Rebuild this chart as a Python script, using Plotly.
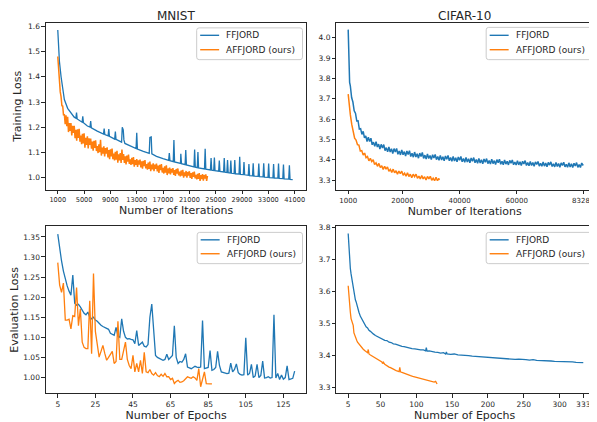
import plotly.graph_objects as go

# ---------------- DATA ----------------
# MNIST training loss (FFJORD) : iterations / loss
mnist_train_ffjord_iter = [
    1000, 1100, 1250, 1500, 1750, 2000, 2500, 3000, 3500, 3750, 3850, 3950, 4500, 4700, 4800, 4900,
    5500, 5900, 6000, 6100, 7000, 7950, 8050, 8150, 8650, 8750, 8850, 9650, 9750, 9850, 10700, 10800,
    10950, 11050, 11200, 12000, 12900, 13000, 13100, 14000, 14900, 15000, 15200, 15300, 16000, 17000,
    17850, 17950, 18050, 18550, 18650, 18750, 19650, 19700, 19800, 20350, 20450, 20550, 21000, 21700,
    21800, 21900, 22200, 22300, 22400, 23300, 23400, 23500, 24200, 24300, 24400, 24700, 24800, 24900,
    25450, 25550, 25650, 26200, 26300, 26400, 26700, 26800, 26900, 27200, 27300, 27400, 27800, 27900,
    28000, 28550, 28650, 28750, 29200, 29300, 29400, 29950, 30050, 30150, 30600, 30700, 30800, 31450,
    31550, 31650, 32200, 32300, 32400, 32950, 33050, 33150, 33700, 33800, 33900, 34450, 34550, 34650,
    35200, 35300, 35400, 36100, 36200, 36300, 36700]
mnist_train_ffjord_loss = [
    1.585, 1.520, 1.460, 1.400, 1.350, 1.310, 1.275, 1.255, 1.240, 1.236, 1.258, 1.233, 1.222, 1.220, 1.243, 1.218,
    1.205, 1.201, 1.225, 1.198, 1.185, 1.173, 1.195, 1.171, 1.166, 1.193, 1.164, 1.153, 1.183, 1.152, 1.141, 1.200,
    1.190, 1.150, 1.136, 1.126, 1.116, 1.178, 1.114, 1.105, 1.097, 1.160, 1.162, 1.095, 1.085, 1.076,
    1.069, 1.098, 1.068, 1.064, 1.150, 1.063, 1.057, 1.095, 1.056, 1.052, 1.110, 1.051, 1.047, 1.043,
    1.112, 1.042, 1.040, 1.102, 1.039, 1.035, 1.115, 1.034, 1.031, 1.078, 1.030, 1.029, 1.080, 1.028,
    1.026, 1.068, 1.025, 1.023, 1.078, 1.022, 1.021, 1.070, 1.020, 1.019, 1.068, 1.018, 1.017, 1.070,
    1.016, 1.015, 1.083, 1.014, 1.013, 1.062, 1.012, 1.010, 1.055, 1.009, 1.008, 1.058, 1.007, 1.006,
    1.057, 1.005, 1.004, 1.058, 1.003, 1.002, 1.057, 1.001, 1.000, 1.055, 0.999, 0.999, 1.057, 0.998,
    0.997, 1.053, 0.996, 0.995, 1.050, 0.994, 0.993]

# MNIST training loss (AFFJORD), one value every 125 iterations from 1000
mnist_train_affjord_loss = [
    1.480, 1.426, 1.388, 1.340, 1.321, 1.285, 1.284, 1.247,
    1.252, 1.212, 1.247, 1.204, 1.241, 1.181, 1.217, 1.186,
    1.217, 1.168, 1.206, 1.178, 1.206, 1.157, 1.190, 1.147,
    1.192, 1.158, 1.194, 1.143, 1.167, 1.133, 1.174, 1.136,
    1.176, 1.119, 1.158, 1.130, 1.164, 1.116, 1.156, 1.130,
    1.155, 1.115, 1.143, 1.107, 1.146, 1.118, 1.148, 1.106,
    1.126, 1.098, 1.133, 1.101, 1.150, 1.088, 1.120, 1.096,
    1.125, 1.085, 1.118, 1.096, 1.121, 1.081, 1.110, 1.074,
    1.113, 1.085, 1.116, 1.074, 1.096, 1.069, 1.103, 1.072,
    1.107, 1.060, 1.093, 1.069, 1.098, 1.059, 1.112, 1.071,
    1.094, 1.059, 1.085, 1.053, 1.088, 1.064, 1.092, 1.055,
    1.073, 1.051, 1.079, 1.054, 1.082, 1.044, 1.070, 1.051,
    1.074, 1.043, 1.069, 1.052, 1.072, 1.041, 1.065, 1.036,
    1.067, 1.046, 1.070, 1.037, 1.054, 1.032, 1.060, 1.035,
    1.064, 1.026, 1.052, 1.033, 1.057, 1.026, 1.052, 1.035,
    1.056, 1.025, 1.048, 1.019, 1.051, 1.030, 1.054, 1.021,
    1.039, 1.017, 1.045, 1.020, 1.049, 1.011, 1.037, 1.018,
    1.040, 1.014, 1.035, 1.021, 1.038, 1.012, 1.031, 1.008,
    1.035, 1.017, 1.037, 1.010, 1.024, 1.006, 1.029, 1.009,
    1.032, 1.001, 1.022, 1.007, 1.027, 1.001, 1.023, 1.009,
    1.026, 1.000, 1.019, 0.996, 1.022, 1.004, 1.025, 0.998,
    1.012, 0.994, 1.016, 0.996, 1.019, 0.988, 1.011, 0.995,
    1.015, 0.989, 1.011, 0.997, 1.014, 0.988, 1.008]
mnist_train_affjord_iter = [1000 + 125 * i for i in range(len(mnist_train_affjord_loss))]

mnist_train_tickvals = [1000, 5000, 9000, 13000, 17000, 21000, 25000, 29000, 33000, 37000]
mnist_train_ticktext = ["1000", "5000", "9000", "13000", "17000", "21000", "25000", "29000", "33000", "41000"]

# CIFAR-10 training loss (FFJORD): 1000, 1250, 1500, then every 450 iterations from 1750, then 83283
cifar_train_ffjord_loss = [
    4.040, 3.860, 3.780,
    3.764, 3.706, 3.684, 3.641, 3.629, 3.591, 3.592, 3.551, 3.553, 3.525,
    3.540, 3.508, 3.518, 3.490, 3.511, 3.490, 3.506, 3.474, 3.487, 3.466,
    3.489, 3.463, 3.477, 3.453, 3.476, 3.458, 3.475, 3.445, 3.460, 3.439,
    3.463, 3.438, 3.454, 3.431, 3.455, 3.438, 3.456, 3.427, 3.443, 3.424,
    3.449, 3.425, 3.440, 3.418, 3.443, 3.426, 3.445, 3.416, 3.432, 3.413,
    3.438, 3.414, 3.430, 3.408, 3.433, 3.416, 3.436, 3.407, 3.423, 3.404,
    3.429, 3.406, 3.421, 3.401, 3.425, 3.409, 3.426, 3.401, 3.416, 3.398,
    3.422, 3.399, 3.415, 3.395, 3.419, 3.403, 3.421, 3.395, 3.411, 3.393,
    3.417, 3.394, 3.410, 3.390, 3.414, 3.398, 3.416, 3.390, 3.406, 3.388,
    3.412, 3.389, 3.405, 3.385, 3.409, 3.393, 3.411, 3.385, 3.401, 3.383,
    3.407, 3.384, 3.400, 3.380, 3.404, 3.388, 3.406, 3.381, 3.396, 3.379,
    3.403, 3.381, 3.396, 3.377, 3.401, 3.385, 3.403, 3.378, 3.393, 3.376,
    3.399, 3.379, 3.393, 3.375, 3.397, 3.383, 3.399, 3.376, 3.389, 3.374,
    3.396, 3.375, 3.390, 3.372, 3.393, 3.380, 3.396, 3.372, 3.386, 3.371,
    3.392, 3.372, 3.387, 3.368, 3.390, 3.377, 3.392, 3.369, 3.383, 3.368,
    3.389, 3.369, 3.384, 3.366, 3.387, 3.374, 3.390, 3.367, 3.380, 3.365,
    3.387, 3.367, 3.382, 3.363, 3.385, 3.372, 3.388, 3.365, 3.378, 3.363,
    3.385, 3.365, 3.380, 3.362, 3.383, 3.370, 3.386, 3.363, 3.377, 3.362,
    3.384,
    3.372]
cifar_train_ffjord_iter = ([1000, 1250, 1500]
                           + [1750 + 450 * k for k in range(len(cifar_train_ffjord_loss) - 4)]
                           + [83283])

# CIFAR-10 training loss (AFFJORD): 1000, 1250, 1500, then every 500 iterations from 1750, then 32850
cifar_train_affjord_loss = [
    3.723, 3.680, 3.648,
    3.622, 3.574, 3.543, 3.506, 3.497, 3.474, 3.472, 3.443, 3.445, 3.423,
    3.433, 3.410, 3.416, 3.395, 3.407, 3.391, 3.400, 3.377, 3.385, 3.368,
    3.382, 3.362, 3.371, 3.353, 3.368, 3.354, 3.365, 3.344, 3.353, 3.338,
    3.354, 3.336, 3.346, 3.329, 3.345, 3.332, 3.344, 3.324, 3.334, 3.319,
    3.336, 3.318, 3.329, 3.312, 3.329, 3.317, 3.329, 3.309, 3.320, 3.306,
    3.323, 3.306, 3.317, 3.301, 3.318, 3.306, 3.319, 3.299, 3.310, 3.297,
    3.314, 3.297, 3.309,
    3.300]
cifar_train_affjord_iter = ([1000, 1250, 1500]
                            + [1750 + 500 * k for k in range(len(cifar_train_affjord_loss) - 4)]
                            + [32850])

cifar_train_tickvals = [1000, 20000, 40000, 60000, 83283]

# MNIST evaluation loss, one value per epoch starting at epoch 5
mnist_eval_ffjord_loss = [
    1.357, 1.320, 1.290, 1.265, 1.245, 1.228, 1.215, 1.205, 1.255, 1.185, 1.180, 1.182, 1.176, 1.166,
    1.160, 1.156, 1.163, 1.150, 1.146, 1.150, 1.143, 1.140, 1.134, 1.130, 1.127, 1.124, 1.121, 1.120,
    1.110, 1.108, 1.105, 1.125, 1.103, 1.100, 1.146, 1.115, 1.100, 1.096, 1.097, 1.095, 1.094, 1.084,
    1.117, 1.080, 1.083, 1.088, 1.078, 1.076, 1.082, 1.150, 1.183, 1.110, 1.055, 1.050, 1.047, 1.045,
    1.043, 1.045, 1.058, 1.045, 1.050, 1.055, 1.129, 1.050, 1.035, 1.040, 1.038, 1.045, 1.059, 1.026,
    1.024, 1.022, 1.025, 1.028, 1.026, 1.025, 1.026, 1.142, 1.022, 1.024, 1.025, 1.067, 1.018, 1.020,
    1.025, 1.065, 1.030, 1.014, 1.013, 1.012, 1.010, 1.011, 1.036, 1.014, 1.020, 1.034, 1.012, 1.008,
    1.006, 1.007, 1.099, 1.006, 1.010, 1.033, 1.000, 1.004, 1.033, 1.000, 1.005, 1.041, 0.999, 1.000,
    1.002, 0.999, 1.000, 1.156, 0.999, 1.010, 0.995, 1.006, 0.996, 1.000, 1.029, 0.995, 0.996, 0.998,
    1.016]
mnist_eval_ffjord_epoch = [5 + i for i in range(len(mnist_eval_ffjord_loss))]

mnist_eval_affjord_loss = [
    1.286, 1.230, 1.212, 1.235, 1.143, 1.143, 1.145, 1.121, 1.154, 1.152, 1.224, 1.129, 1.171, 1.088,
    1.075, 1.072, 1.072, 1.191, 1.059, 1.259, 1.115, 1.076, 1.051, 1.065, 1.080, 1.060, 1.043, 1.050,
    1.058, 1.065, 1.035, 1.040, 1.140, 1.045, 1.045, 1.065, 1.088, 1.045, 1.030, 1.022, 1.055, 1.014,
    1.035, 1.014, 1.043, 1.010, 1.063, 1.014, 1.012, 1.020, 1.010, 1.006, 1.012, 1.005, 1.002, 1.008,
    1.003, 1.010, 1.002, 1.002, 0.995, 0.998, 0.985, 0.990, 0.993, 0.988, 0.989, 0.992, 0.997, 1.002,
    1.000, 0.998, 1.002, 0.999, 0.993, 1.022, 0.977, 0.995, 1.014, 0.985, 0.984, 0.984, 0.984]
mnist_eval_affjord_epoch = [5 + i for i in range(len(mnist_eval_affjord_loss))]

mnist_eval_tickvals = [5, 25, 45, 65, 85, 105, 125]

# CIFAR-10 evaluation loss
cifar_eval_ffjord_epoch = [
    5, 6, 7, 8, 9, 10, 11, 12, 13, 14, 15, 16, 17, 18, 19, 20, 22, 24, 26, 28, 30, 32, 34, 36, 38, 40,
    43, 46, 50, 53, 56, 59, 62, 65, 68, 71, 74, 77, 80, 83, 86, 90, 94, 98, 102, 106, 110, 113, 114,
    115, 118, 122, 126, 130, 134, 138, 141, 142, 143, 148, 153, 158, 163, 168, 173, 178, 183, 188, 193,
    198, 203, 208, 213, 218, 223, 228, 233, 238, 243, 248, 253, 258, 263, 268, 273, 278, 283, 288, 293,
    298, 303, 308, 313, 318, 323, 328, 333]
cifar_eval_ffjord_loss = [
    3.782, 3.735, 3.700, 3.672, 3.655, 3.640, 3.625, 3.612, 3.598, 3.590, 3.574, 3.568, 3.558, 3.550,
    3.540, 3.535, 3.522, 3.514, 3.503, 3.497, 3.489, 3.486, 3.478, 3.475, 3.470, 3.467,
    3.462, 3.458, 3.454, 3.451, 3.447, 3.446, 3.441, 3.440, 3.436, 3.435, 3.432, 3.431, 3.428, 3.427,
    3.425, 3.424, 3.421, 3.420, 3.418, 3.417, 3.417, 3.414, 3.424,
    3.413, 3.414, 3.411, 3.410, 3.409, 3.407, 3.408, 3.404, 3.410, 3.404, 3.403, 3.404, 3.401, 3.401,
    3.399, 3.399, 3.397, 3.396, 3.396, 3.394,
    3.393, 3.393, 3.391, 3.391, 3.390, 3.389, 3.389, 3.388, 3.387, 3.388, 3.386, 3.386, 3.385, 3.386,
    3.384, 3.384, 3.383, 3.383, 3.382, 3.381,
    3.381, 3.380, 3.381, 3.379, 3.379, 3.378, 3.378, 3.377]

cifar_eval_affjord_epoch = [
    5, 6, 7, 8, 9, 10, 11, 12, 13, 14, 15, 16, 17, 18, 19, 20, 22, 24, 26, 28, 30, 32, 33, 34, 36, 38,
    40, 42, 44, 46, 48, 50, 52, 53, 54, 56, 58, 60, 62, 64, 66, 68, 70, 72, 74, 76, 77, 78, 80, 83, 86,
    89, 92, 95, 98, 101, 104, 107, 110, 113, 116, 119, 122, 125, 127, 129]
cifar_eval_affjord_loss = [
    3.618, 3.580, 3.556, 3.535, 3.515, 3.505, 3.500, 3.494, 3.470, 3.462, 3.455, 3.450, 3.446, 3.441,
    3.438, 3.434, 3.428, 3.423, 3.419, 3.415, 3.411, 3.408, 3.418, 3.404, 3.401, 3.398,
    3.395, 3.392, 3.389, 3.387, 3.384, 3.381, 3.379, 3.374, 3.378, 3.372, 3.368, 3.366, 3.363, 3.361,
    3.358, 3.356, 3.354, 3.352, 3.351, 3.349, 3.362, 3.348, 3.346, 3.343, 3.341,
    3.338, 3.336, 3.334, 3.332, 3.330, 3.328, 3.326, 3.325, 3.322, 3.320, 3.318, 3.318, 3.316, 3.318,
    3.310]

cifar_eval_tickvals = [5, 50, 100, 150, 200, 250, 300, 333]

series_names = ["FFJORD", "AFFJORD (ours)"]

# ---------------- FIGURE ----------------
PAGE_W, PAGE_H = 597, 422
OFF = 8                      # the page body has an 8px margin
W, H = PAGE_W - OFF, PAGE_H - OFF
BLUE = "#1f77b4"
ORANGE = "#ff7f0e"
FONT = "DejaVu Sans"
TXT = "#262626"
LW = 1.3          # sparse curves
LW_DENSE = 1.5    # densely sampled, noisy training curves


def fx(p):
    """page pixel x -> paper coordinate"""
    return (p - OFF) / W


def fy(p):
    """page pixel y -> paper coordinate"""
    return 1 - (p - OFF) / H


fig = go.Figure()

panels = [
    ("x", "y", mnist_train_ffjord_iter, mnist_train_ffjord_loss, LW,
     mnist_train_affjord_iter, mnist_train_affjord_loss, LW_DENSE),
    ("x2", "y2", cifar_train_ffjord_iter, cifar_train_ffjord_loss, LW_DENSE,
     cifar_train_affjord_iter, cifar_train_affjord_loss, LW_DENSE),
    ("x3", "y3", mnist_eval_ffjord_epoch, mnist_eval_ffjord_loss, LW,
     mnist_eval_affjord_epoch, mnist_eval_affjord_loss, LW),
    ("x4", "y4", cifar_eval_ffjord_epoch, cifar_eval_ffjord_loss, LW,
     cifar_eval_affjord_epoch, cifar_eval_affjord_loss, LW),
]
for xa, ya, x1, y1, w1, x2, y2, w2 in panels:
    fig.add_trace(go.Scatter(x=x1, y=y1, mode="lines", name=series_names[0], xaxis=xa, yaxis=ya,
                             showlegend=False, line=dict(color=BLUE, width=w1)))
    fig.add_trace(go.Scatter(x=x2, y=y2, mode="lines", name=series_names[1], xaxis=xa, yaxis=ya,
                             showlegend=False, line=dict(color=ORANGE, width=w2)))


def axis_style(tick_size=7.5):
    return dict(showline=True, mirror=True, linecolor=TXT, linewidth=1,
                ticks="outside", ticklen=3.5, tickwidth=0.8, tickcolor=TXT,
                showgrid=False, zeroline=False,
                tickfont=dict(family=FONT, size=tick_size, color=TXT))


title_font = dict(family=FONT, size=11, color=TXT)

xl = [fx(46), fx(307)]
xr = [fx(337), fx(594)]
yt = [fy(188), fy(20)]
yb = [fy(393), fy(225)]

fig.update_layout(
    width=W, height=H,
    margin=dict(l=0, r=0, t=0, b=0),
    paper_bgcolor="white", plot_bgcolor="white",
    font=dict(family=FONT, color=TXT),
    showlegend=False,
    xaxis=dict(domain=xl, anchor="y", range=[-800, 38800],
               tickmode="array", tickvals=mnist_train_tickvals, ticktext=mnist_train_ticktext,
               title=dict(text="Number of Iterations", font=title_font, standoff=3), **axis_style(6.6)),
    yaxis=dict(domain=yt, anchor="x", range=[0.953, 1.613], tickformat=".1f", dtick=0.1,
               title=dict(text="Training Loss", font=title_font, standoff=4), **axis_style()),
    xaxis2=dict(domain=xr, anchor="y2", range=[-3114, 86708],
                tickmode="array", tickvals=cifar_train_tickvals,
                ticktext=[str(v) for v in cifar_train_tickvals],
                title=dict(text="Number of Iterations", font=title_font, standoff=3), **axis_style(7)),
    yaxis2=dict(domain=yt, anchor="x2", range=[3.253, 4.073], tickformat=".1f", dtick=0.1,
                **axis_style()),
    xaxis3=dict(domain=xl, anchor="y3", range=[-1.3, 137.3],
                tickmode="array", tickvals=mnist_eval_tickvals,
                title=dict(text="Number of Epochs", font=title_font, standoff=3), **axis_style()),
    yaxis3=dict(domain=yb, anchor="x3", range=[0.961, 1.376], tickformat=".2f", dtick=0.05,
                title=dict(text="Evaluation Loss", font=title_font, standoff=4), **axis_style()),
    xaxis4=dict(domain=xr, anchor="y4", range=[-11.4, 346.6],
                tickmode="array", tickvals=cifar_eval_tickvals,
                title=dict(text="Number of Epochs", font=title_font, standoff=3), **axis_style()),
    yaxis4=dict(domain=yb, anchor="x4", range=[3.281, 3.804], tickformat=".1f", dtick=0.1,
                **axis_style()),
)


# ---- legends drawn in matplotlib style (box, short line sample, label) ----
def rounded_box(x0, y0, x1, y1, r=2.5):
    X = lambda p: fx(p)
    Y = lambda p: fy(p)
    return (f"M {X(x0 + r)} {Y(y0)} L {X(x1 - r)} {Y(y0)} Q {X(x1)} {Y(y0)} {X(x1)} {Y(y0 + r)} "
            f"L {X(x1)} {Y(y1 - r)} Q {X(x1)} {Y(y1)} {X(x1 - r)} {Y(y1)} "
            f"L {X(x0 + r)} {Y(y1)} Q {X(x0)} {Y(y1)} {X(x0)} {Y(y1 - r)} "
            f"L {X(x0)} {Y(y0 + r)} Q {X(x0)} {Y(y0)} {X(x0 + r)} {Y(y0)} Z")


def add_legend(x0, y0, x1, y1, rows):
    fig.add_shape(type="path", path=rounded_box(x0, y0, x1, y1), xref="paper", yref="paper",
                  line=dict(color="#cccccc", width=1), fillcolor="rgba(255,255,255,0.85)")
    for (yy, color, label) in zip(rows, [BLUE, ORANGE], series_names):
        fig.add_shape(type="line", xref="paper", yref="paper",
                      x0=fx(x0 + 3.5), x1=fx(x0 + 22.5), y0=fy(yy), y1=fy(yy),
                      line=dict(color=color, width=1.4))
        fig.add_annotation(text=label, x=fx(x0 + 28.5), y=fy(yy), xref="paper", yref="paper",
                           xanchor="left", yanchor="middle", showarrow=False,
                           font=dict(family=FONT, size=9, color=TXT), borderpad=0)


add_legend(197, 25, 303, 57, [32.5, 47])
add_legend(487, 24.5, 592.5, 57, [32.5, 47])
add_legend(197.5, 231, 303, 262.5, [238.5, 252.5])
add_legend(487, 231, 592.5, 262.5, [238.5, 252.5])

fig.add_annotation(text="MNIST", x=(xl[0] + xl[1]) / 2, y=fy(13), xref="paper", yref="paper",
                   showarrow=False, font=dict(family=FONT, size=12, color=TXT),
                   xanchor="center", yanchor="middle")
fig.add_annotation(text="CIFAR-10", x=(xr[0] + xr[1]) / 2, y=fy(13), xref="paper", yref="paper",
                   showarrow=False, font=dict(family=FONT, size=12, color=TXT),
                   xanchor="center", yanchor="middle")

fig.write_html("out.html")
